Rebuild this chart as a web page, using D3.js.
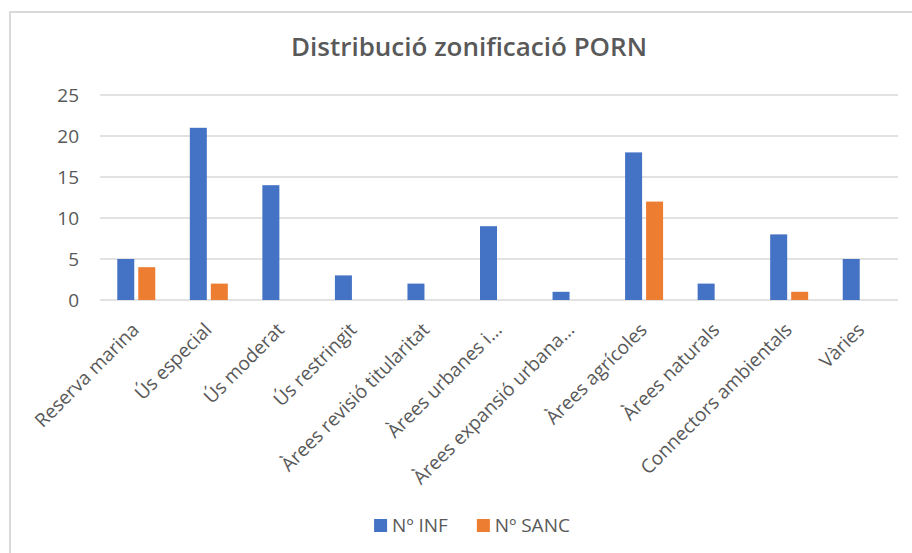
<!DOCTYPE html>
<html>
<head>
<meta charset="utf-8">
<script src="https://cdn.jsdelivr.net/npm/d3@7"></script>
<style>
  html, body { margin: 0; padding: 0; background: #fff; }
  svg { display: block; font-family: "Open Sans", "Noto Sans", sans-serif; }
</style>
</head>
<body>
<svg id="chart" width="912" height="553"></svg>
<script>
// Zoning categories and counts per series
const categories = [
  "Reserva marina", "Ús especial", "Ús moderat", "Ús restringit",
  "Àrees revisió titularitat", "Àrees urbanes i...", "Àrees expansió urbana...",
  "Àrees agrícoles", "Àrees naturals", "Connectors ambientals", "Vàries"
];
const seriesNames = ["Nº INF", "Nº SANC"];
const infValues  = [5, 21, 14, 3, 2, 9, 1, 18, 2, 8, 5];
const sancValues = [4, 2, 0, 0, 0, 0, 0, 12, 0, 1, 0];
const yTicks = [0, 5, 10, 15, 20, 25];
const colors = ["#4472C4", "#ED7D31"];

const svg = d3.select("#chart");
const textColor = "#595959";
const gridColor = "#d9d9d9";

// Outer chart frame
svg.append("rect")
  .attr("x", 10).attr("y", 12)
  .attr("width", 930).attr("height", 580)
  .attr("fill", "#fff")
  .attr("stroke", gridColor).attr("stroke-width", 2);

// Title
svg.append("text")
  .attr("x", 469).attr("y", 56)
  .attr("text-anchor", "middle")
  .attr("fill", textColor)
  .attr("font-size", 26)
  .attr("font-weight", 600)
  .text("Distribució zonificació PORN");

const plot = { left: 100, right: 898, top: 95, bottom: 300 };

const x0 = d3.scaleBand().domain(categories).range([plot.left, plot.right]).padding(0);
const x1 = d3.scaleBand().domain(seriesNames).range([0, 38]).paddingInner(0.19).paddingOuter(0);
const y = d3.scaleLinear().domain([0, 25]).range([plot.bottom, plot.top]);

// Horizontal gridlines
svg.append("g")
  .selectAll("line")
  .data(yTicks)
  .join("line")
  .attr("x1", plot.left).attr("x2", plot.right)
  .attr("y1", d => y(d)).attr("y2", d => y(d))
  .attr("stroke", gridColor).attr("stroke-width", 1.5);

// Y-axis labels
const yAxis = svg.append("g")
  .attr("transform", `translate(${plot.left - 21},0)`)
  .call(d3.axisLeft(y).tickValues(yTicks).tickSize(0).tickPadding(0));
yAxis.select(".domain").remove();
yAxis.selectAll("text")
  .attr("fill", textColor)
  .attr("font-size", 19)
  .attr("font-family", "Open Sans, Noto Sans, sans-serif");

// Bars
const rows = categories.map((c, i) => ({ cat: c, vals: [infValues[i], sancValues[i]] }));
const groups = svg.append("g")
  .selectAll("g")
  .data(rows)
  .join("g")
  .attr("transform", d => `translate(${x0(d.cat) + x0.bandwidth() / 2 - 19},0)`);

groups.selectAll("rect")
  .data(d => d.vals.map((v, j) => ({ s: seriesNames[j], v, j })))
  .join("rect")
  .attr("x", d => x1(d.s))
  .attr("width", x1.bandwidth())
  .attr("y", d => y(d.v))
  .attr("height", d => y(0) - y(d.v))
  .attr("fill", d => colors[d.j]);

// Category labels, rotated
svg.append("g")
  .selectAll("text")
  .data(categories)
  .join("text")
  .attr("transform", d => `translate(${x0(d) + x0.bandwidth() / 2 + 4},331) rotate(-45)`)
  .attr("text-anchor", "end")
  .attr("fill", textColor)
  .attr("font-size", 19)
  .text(d => d);

// Legend
const legend = svg.append("g");
const items = legend.selectAll("g")
  .data(seriesNames)
  .join("g");
items.append("rect")
  .attr("width", 13).attr("height", 13)
  .attr("y", -13)
  .attr("fill", (d, i) => colors[i]);
items.append("text")
  .attr("x", 18)
  .attr("y", 0)
  .attr("fill", textColor)
  .attr("font-size", 19)
  .text(d => d);
const widths = [];
items.each(function () {
  widths.push(18 + this.querySelector("text").getComputedTextLength());
});
const gap = 29;
const total = widths.reduce((a, b) => a + b, 0) + gap * (widths.length - 1);
let start = 472 - total / 2;
items.attr("transform", (d, i) => {
  const tx = start;
  start += widths[i] + gap;
  return `translate(${tx},532)`;
});
</script>
</body>
</html>
